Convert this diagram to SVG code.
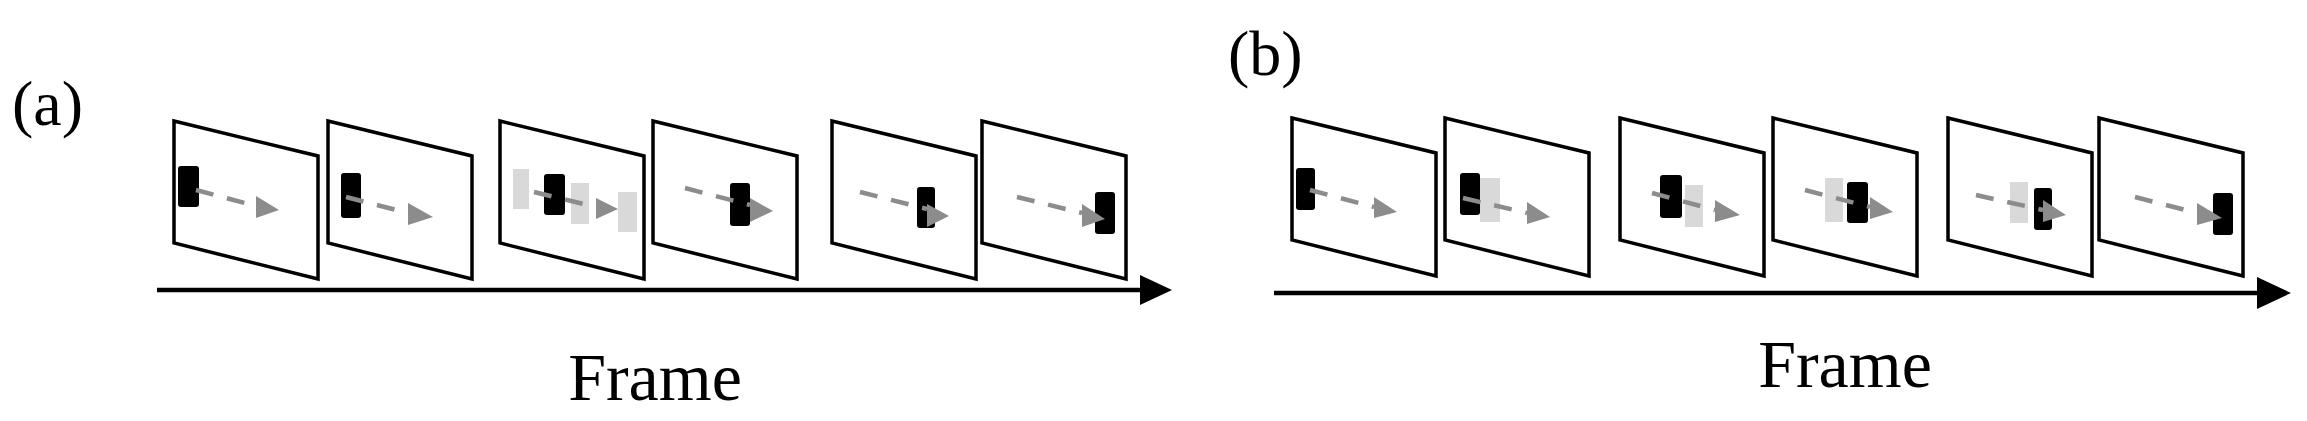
<svg xmlns="http://www.w3.org/2000/svg" width="2307" height="421" viewBox="0 0 2307 421">
<style>
.fr{fill:#fff;stroke:#000;stroke-width:3.5;stroke-linejoin:miter}
.bk{fill:#000}
.lg{fill:#d9d9d9}
.da{stroke:#8c8c8c;stroke-width:4.5;stroke-dasharray:18,14;fill:none}
.tr{fill:#8c8c8c}
.ax{stroke:#000;stroke-width:4.5;fill:none}
.lb{font-family:'Liberation Serif','Times New Roman',serif;fill:#000}
</style>
<defs>
<polygon id="pf" class="fr" points="0,0 144,35 144,158 0,122"/>
</defs>
<text class="lb" x="12" y="125" font-size="64">(a)</text>
<text class="lb" x="1228" y="75" font-size="64">(b)</text>
<text class="lb" x="655" y="400" font-size="68" text-anchor="middle">Frame</text>
<text class="lb" x="1845" y="387" font-size="68" text-anchor="middle">Frame</text>
<g id="connectors">
<line class="ax" x1="157" y1="290" x2="1145" y2="290"/>
<polygon points="1140,275 1172,290 1140,305" fill="#000"/>
<line class="ax" x1="1274" y1="293" x2="2262" y2="293"/>
<polygon points="2257,277 2291,293 2257,309" fill="#000"/>
</g>
<g id="a1" transform="translate(174,121)"><use href="#pf"/><rect class="bk" x="4" y="45" width="21" height="41" rx="3"/><line class="da" x1="22" y1="69" x2="82" y2="85"/><polygon class="tr" points="82,75 105,89 82,97"/></g>
<g id="a2" transform="translate(328,121)"><use href="#pf"/><rect class="bk" x="13" y="52" width="20" height="45" rx="3"/><line class="da" x1="18" y1="76" x2="80" y2="92"/><polygon class="tr" points="80,82 105,96 80,104"/></g>
<g id="a3" transform="translate(500,121)"><use href="#pf"/><rect class="lg" x="13" y="48" width="16" height="40"/><rect class="lg" x="71" y="62" width="18" height="41"/><rect class="lg" x="118" y="71" width="19" height="40"/><rect class="bk" x="44" y="53" width="21" height="41" rx="3"/><line class="da" x1="34" y1="71" x2="96" y2="86"/><polygon class="tr" points="96,77 118,88 96,98"/></g>
<g id="a4" transform="translate(653,121)"><use href="#pf"/><rect class="bk" x="77" y="62" width="20" height="43" rx="3"/><line class="da" x1="32" y1="67" x2="97" y2="84"/><polygon class="tr" points="97,77 120,90 97,101"/></g>
<g id="a5" transform="translate(832,121)"><use href="#pf"/><rect class="bk" x="85" y="66" width="18" height="41" rx="3"/><line class="da" x1="28" y1="71" x2="95" y2="88"/><polygon class="tr" points="95,83 117,95 95,106"/></g>
<g id="a6" transform="translate(982,121)"><use href="#pf"/><rect class="bk" x="113" y="71" width="20" height="42" rx="3"/><line class="da" x1="35" y1="76" x2="100" y2="92"/><polygon class="tr" points="100,83 123,98 100,106"/></g>
<g id="b1" transform="translate(1292,118)"><use href="#pf"/><rect class="bk" x="4" y="50" width="19" height="42" rx="3"/><line class="da" x1="18" y1="72" x2="82" y2="89"/><polygon class="tr" points="82,79 105,94 82,100"/></g>
<g id="b2" transform="translate(1445,118)"><use href="#pf"/><rect class="bk" x="15" y="55" width="20" height="42" rx="3"/><rect class="lg" x="35" y="60" width="20" height="44"/><line class="da" x1="18" y1="80" x2="82" y2="95"/><polygon class="tr" points="82,84 105,99 82,106"/></g>
<g id="b3" transform="translate(1620,118)"><use href="#pf"/><rect class="bk" x="40" y="57" width="22" height="43" rx="3"/><rect class="lg" x="65" y="67" width="18" height="42"/><line class="da" x1="32" y1="75" x2="95" y2="92"/><polygon class="tr" points="95,82 120,97 95,104"/></g>
<g id="b4" transform="translate(1773,118)"><use href="#pf"/><rect class="lg" x="52" y="60" width="18" height="44"/><rect class="bk" x="74" y="64" width="21" height="41" rx="3"/><line class="da" x1="32" y1="72" x2="97" y2="89"/><polygon class="tr" points="97,79 120,94 97,101"/></g>
<g id="b5" transform="translate(1948,118)"><use href="#pf"/><rect class="lg" x="62" y="64" width="18" height="41"/><rect class="bk" x="86" y="70" width="18" height="42" rx="3"/><line class="da" x1="28" y1="77" x2="95" y2="92"/><polygon class="tr" points="95,82 118,97 95,104"/></g>
<g id="b6" transform="translate(2099,118)"><use href="#pf"/><rect class="bk" x="114" y="75" width="20" height="42" rx="3"/><line class="da" x1="36" y1="79" x2="98" y2="95"/><polygon class="tr" points="98,85 123,100 98,107"/></g>
</svg>
